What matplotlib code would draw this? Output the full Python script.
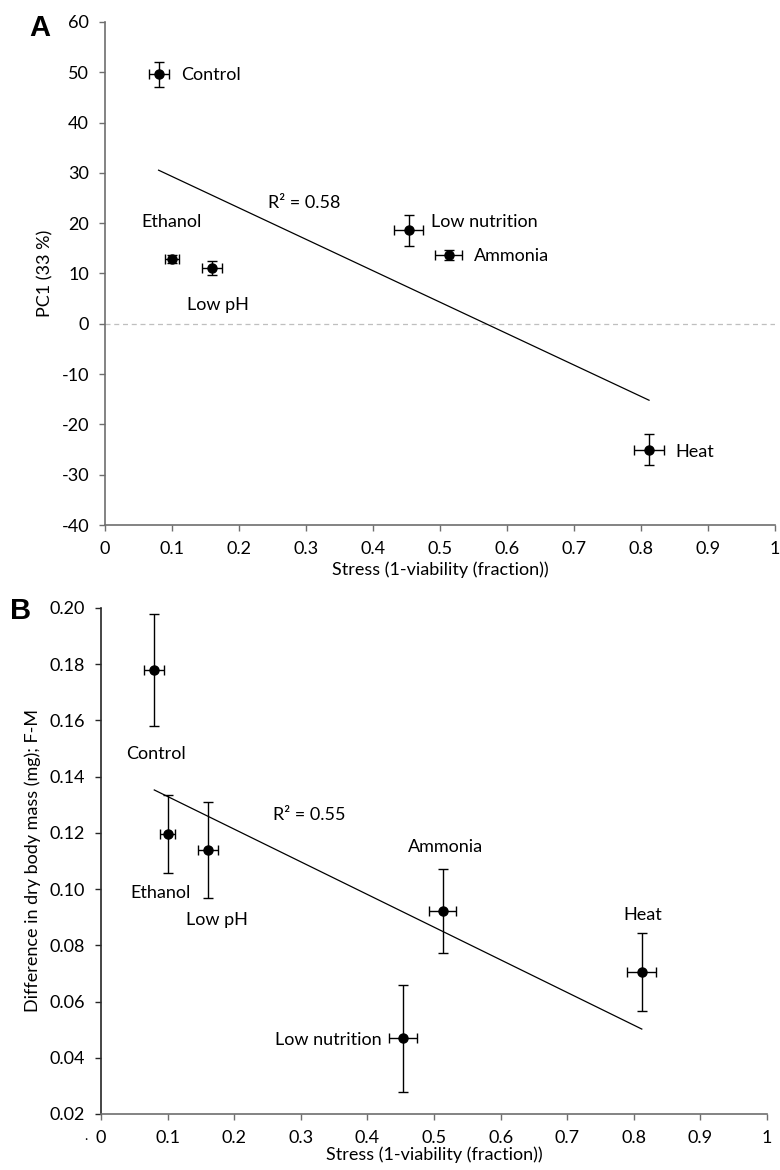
import numpy as np
import matplotlib
matplotlib.use('Agg')
import matplotlib.pyplot as plt

plt.rcParams['font.family'] = ['Lato', 'DejaVu Sans']
plt.rcParams['axes.unicode_minus'] = False

treatments = ['Control', 'Ethanol', 'Low pH', 'Low nutrition', 'Ammonia', 'Heat']

# stress = 1 - viability (fraction), same for both panels
stress = np.array([0.080, 0.100, 0.160, 0.453, 0.513, 0.812])
stress_err = np.array([0.015, 0.011, 0.015, 0.021, 0.020, 0.022])

# panel A: PC1 scores
pc1 = np.array([49.6, 12.9, 11.1, 18.6, 13.7, -25.0])
pc1_err = np.array([2.5, 0.8, 1.3, 3.1, 1.0, 3.0])

# panel B: difference in dry body mass (mg), F-M
mass_diff = np.array([0.178, 0.1196, 0.114, 0.047, 0.0922, 0.0705])
mass_err = np.array([0.020, 0.014, 0.017, 0.019, 0.015, 0.014])

x_ticks = [0, 0.1, 0.2, 0.3, 0.4, 0.5, 0.6, 0.7, 0.8, 0.9, 1]
x_ticklabels = ['0', '0.1', '0.2', '0.3', '0.4', '0.5', '0.6', '0.7', '0.8', '0.9', '1']
a_yticks = [-40, -30, -20, -10, 0, 10, 20, 30, 40, 50, 60]
b_yticks = [0.02, 0.04, 0.06, 0.08, 0.10, 0.12, 0.14, 0.16, 0.18, 0.20]

# label positions (data coords) and alignment for each treatment
a_labels = {'Control': (0.113, 49.5, 'left'), 'Ethanol': (0.100, 20.2, 'center'),
            'Low pH': (0.169, 3.7, 'center'), 'Low nutrition': (0.487, 20.2, 'left'),
            'Ammonia': (0.551, 13.5, 'left'), 'Heat': (0.852, -25.4, 'left')}
b_labels = {'Control': (0.083, 0.148, 'center'), 'Ethanol': (0.089, 0.0986, 'center'),
            'Low pH': (0.174, 0.089, 'center'), 'Low nutrition': (0.422, 0.0465, 'right'),
            'Ammonia': (0.517, 0.115, 'center'), 'Heat': (0.813, 0.0907, 'center')}

fs = 13

fig = plt.figure(figsize=(7.8, 11.7), dpi=100)
axA = fig.add_axes([105/780, 1-525/1170, 670/780, 503/1170])
axB = fig.add_axes([101/780, 1-1114/1170, 666/780, 506/1170])


def style_axis(ax, col_left, col_bottom):
    ax.spines['top'].set_visible(False)
    ax.spines['right'].set_visible(False)
    ax.spines['left'].set_color(col_left)
    ax.spines['bottom'].set_color(col_bottom)
    ax.spines['left'].set_linewidth(1.2)
    ax.spines['bottom'].set_linewidth(1.2)
    ax.tick_params(axis='both', direction='out', length=4.5, width=1.0,
                   labelsize=fs, pad=7, colors='#000000')
    ax.tick_params(axis='y', color=col_left)
    ax.tick_params(axis='x', color=col_bottom)
    ax.set_xlim(0, 1)
    ax.set_xticks(x_ticks)
    ax.set_xticklabels(x_ticklabels)


def fit_line(ax, x, y):
    slope, icpt = np.polyfit(x, y, 1)
    xs = np.array([x.min(), x.max()])
    ax.plot(xs, slope*xs + icpt, color='black', lw=0.9, zorder=2)
    r2 = np.corrcoef(x, y)[0, 1]**2
    return r2


# ---- panel A ----
style_axis(axA, '#6e6e6e', '#6e6e6e')
axA.set_ylim(-40, 60)
axA.set_yticks(a_yticks)
axA.axhline(0, color='#bfbfbf', lw=0.9, ls=(0, (4, 3)), zorder=1)
axA.errorbar(stress, pc1, xerr=stress_err, yerr=pc1_err, fmt='o', color='black',
             ms=6.5, elinewidth=1.0, capsize=3.5, capthick=1.0, zorder=3)
r2a = fit_line(axA, stress, pc1)
axA.text(0.243, 24.0, 'R² = %.2f' % r2a, fontsize=fs, va='center', ha='left')
for name in treatments:
    lx, ly, ha = a_labels[name]
    axA.text(lx, ly, name, fontsize=fs, va='center', ha=ha)
axA.set_ylabel('PC1 (33 %)', fontsize=fs, labelpad=6)
axA.set_xlabel('Stress (1-viability (fraction))', fontsize=fs, labelpad=3)

# ---- panel B ----
style_axis(axB, '#262626', '#6e6e6e')
axB.set_ylim(0.02, 0.20)
axB.set_yticks(b_yticks)
axB.set_yticklabels(['%.2f' % v for v in b_yticks])
axB.errorbar(stress, mass_diff, xerr=stress_err, yerr=mass_err, fmt='o', color='black',
             ms=6.5, elinewidth=1.0, capsize=3.5, capthick=1.0, zorder=3)
r2b = fit_line(axB, stress, mass_diff)
axB.text(0.258, 0.1263, 'R² = %.2f' % r2b, fontsize=fs, va='center', ha='left')
for name in treatments:
    lx, ly, ha = b_labels[name]
    axB.text(lx, ly, name, fontsize=fs, va='center', ha=ha)
axB.set_ylabel('Difference in dry body mass (mg); F-M', fontsize=fs, labelpad=6)
axB.set_xlabel('Stress (1-viability (fraction))', fontsize=fs, labelpad=0)

# panel letters
fig.text(40/780, 1-28/1170, 'A', fontsize=21, fontweight='bold', ha='center', va='center',
         family=['Liberation Sans', 'DejaVu Sans'])
fig.text(21/780, 1-611/1170, 'B', fontsize=21, fontweight='bold', ha='center', va='center',
         family=['Liberation Sans', 'DejaVu Sans'])
fig.text(86/780, 1-1140/1170, '.', fontsize=10, ha='center', va='baseline')

plt.savefig('out.png', dpi=100)
